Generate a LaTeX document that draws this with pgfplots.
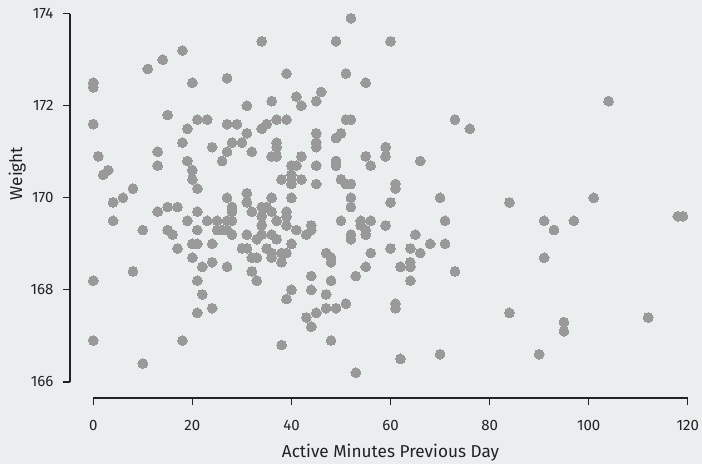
\documentclass[border=0pt]{standalone}
\usepackage{fontspec}
\setmainfont{Fira Sans}
\usepackage{pgfplots}
\pgfplotsset{compat=1.18}
\definecolor{bgc}{RGB}{235,238,239}
\definecolor{ptc}{RGB}{153,153,153}
\definecolor{axc}{RGB}{34,34,34}
\pgfplotstableread{
x y
0 172.5
0 172.4
0 171.6
1 170.9
2 170.5
3 170.6
4 169.9
6 170.0
8 170.2
11 172.8
13 171.0
13 170.7
14 173.0
15 171.8
18 173.2
18 171.2
19 171.5
19 170.8
20 172.5
20 170.6
20 170.4
21 171.7
21 170.2
23 171.7
24 171.1
26 170.8
27 172.6
27 171.6
27 171.0
28 171.2
27 170.0
4 169.5
10 169.3
0 168.2
8 168.4
0 166.9
10 166.4
13 169.7
15 169.8
17 169.8
15 169.3
16 169.2
17 168.9
19 169.5
21 169.7
21 169.3
20 169.0
21 169.0
20 168.7
22 168.5
21 168.2
22 167.9
21 167.5
24 167.6
18 166.9
23 169.5
24 169.0
24 168.6
25 169.5
25 169.3
26 169.3
28 169.8
28 169.7
27 169.5
28 169.5
27 169.3
28 169.2
27 168.5
52 173.9
34 173.4
49 173.4
39 172.7
51 172.7
55 172.5
41 172.2
46 172.3
36 172.1
45 172.1
42 172.0
31 172.0
29 171.6
34 171.5
35 171.6
37 171.7
39 171.7
51 171.7
52 171.7
31 171.4
45 171.4
30 171.2
37 171.2
37 171.1
45 171.2
45 171.1
50 171.4
49 171.3
32 171.0
36 170.9
37 170.9
42 170.9
55 170.9
40 170.7
41 170.7
45 170.7
49 170.8
49 170.7
56 170.7
40 170.5
40 170.4
40 170.3
38 170.4
42 170.4
45 170.3
50 170.4
51 170.3
52 170.3
31 170.1
31 169.9
36 170.0
40 170.0
52 170.0
32 169.7
34 169.8
35 169.8
36 169.7
34 169.6
39 169.7
39 169.6
37 169.5
34 169.4
39 169.4
31 169.2
34 169.2
36 169.2
37 169.1
33 169.1
41 169.3
44 169.4
44 169.3
43 169.2
40 169.0
30 168.9
31 168.9
35 168.9
36 168.8
36 168.7
38 168.8
39 168.8
32 168.7
33 168.7
38 168.6
32 168.4
33 168.2
47 168.8
48 168.7
48 168.6
52 169.8
50 169.5
54 169.5
54 169.4
55 169.3
55 169.2
52 169.2
52 169.1
56 169.5
56 168.8
55 168.5
53 168.3
44 168.3
48 168.2
40 168.0
44 168.0
39 167.8
47 167.9
51 167.7
49 167.6
47 167.6
45 167.5
43 167.4
44 167.2
48 166.9
38 166.8
53 166.2
60 173.4
73 171.7
76 171.5
59 171.1
59 170.9
66 170.8
61 170.3
61 170.2
60 169.9
70 170.0
84 169.9
59 169.4
71 169.5
65 169.2
68 169.0
71 169.0
60 168.9
64 168.9
66 168.8
64 168.6
64 168.5
62 168.5
64 168.2
73 168.4
61 167.7
61 167.6
84 167.5
62 166.5
70 166.6
104 172.1
101 170.0
91 169.5
97 169.5
93 169.3
91 168.7
118 169.6
119 169.6
112 167.4
95 167.3
95 167.1
90 166.6
}\datatable
\begin{document}
\begin{tikzpicture}
\fill[bgc] (-70pt,-66pt) rectangle (632pt,398pt);
\begin{axis}[
  scale only axis, width=617.8pt, height=384.3pt,
  xmin=-4.7, xmax=120, ymin=165.65, ymax=174,
  axis x line*=bottom, axis y line*=left,
  axis line style={draw=none},
  xtick={0,20,...,120}, ytick={166,168,...,174},
  tick align=outside, major tick length=7pt,
  tick style={axc, line width=1.3pt},
  ticklabel style={font=\fontsize{15}{18}\selectfont, text=axc},
  xticklabel shift=12pt, yticklabel shift=6pt,
  /pgf/number format/assume math mode=true,
  /pgf/number format/set thousands separator={},
  xlabel={Active Minutes Previous Day}, ylabel={Weight},
  label style={font=\fontsize{17.2}{20}\selectfont, text=axc},
  xlabel style={at={(ticklabel cs:0.5188)}, yshift=-6pt},
  ylabel style={at={(ticklabel cs:0.584)}, yshift=-2pt},
  clip=false,
]
\addplot[only marks, mark=*, mark size=4.9pt, color=ptc, draw=ptc, fill=ptc, mark options={solid, draw=ptc, fill=ptc, line width=0pt}] table[x=x, y=y] {\datatable};
\draw[axc, line width=1.5pt] (axis cs:0,165.65) -- (axis cs:120,165.65);
\draw[axc, line width=1.5pt] (axis cs:-4.7,166) -- (axis cs:-4.7,174);
\end{axis}
\pgfresetboundingbox
\path[use as bounding box] (-70pt,-66pt) rectangle (632pt,398pt);
\end{tikzpicture}
\end{document}
